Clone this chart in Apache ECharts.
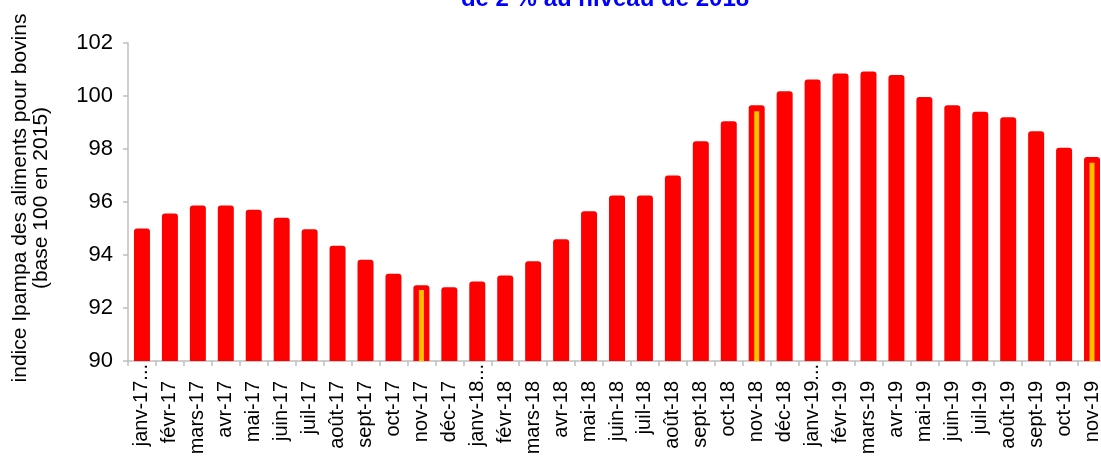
<!DOCTYPE html>
<html>
<head>
<meta charset="utf-8">
<script src="https://cdn.jsdelivr.net/npm/echarts@6/dist/echarts.min.js"></script>
<style>
  html, body { margin: 0; padding: 0; background: #fff; }
  #chart { width: 1101px; height: 457px; }
</style>
</head>
<body>
<div id="chart"></div>
<script>
// mois affichés en abscisse
const months = [
  'janv-17', 'févr-17', 'mars-17', 'avr-17', 'mai-17', 'juin-17', 'juil-17', 'août-17', 'sept-17', 'oct-17', 'nov-17', 'déc-17',
  'janv-18', 'févr-18', 'mars-18', 'avr-18', 'mai-18', 'juin-18', 'juil-18', 'août-18', 'sept-18', 'oct-18', 'nov-18', 'déc-18',
  'janv-19', 'févr-19', 'mars-19', 'avr-19', 'mai-19', 'juin-19', 'juil-19', 'août-19', 'sept-19', 'oct-19', 'nov-19'
]

// indice Ipampa aliments bovins (base 100 en 2015)
const ipampa = [
  95.0, 95.57, 95.87, 95.87, 95.71, 95.41, 94.97, 94.35, 93.82, 93.29, 92.86, 92.78,
  93.0, 93.23, 93.76, 94.59, 95.65, 96.25, 96.25, 97.0, 98.29, 99.05, 99.65, 100.18,
  100.62, 100.85, 100.92, 100.79, 99.96, 99.65, 99.41, 99.2, 98.67, 98.05, 97.7
]

// mois mis en évidence (trait jaune)
const highlightMonths = ['nov-17', 'nov-18', 'nov-19']
const highlightValues = [92.68, 99.42, 97.48]

const yTicks = { min: 90, max: 102, interval: 2 }

const font = 'Liberation Sans, Arial, sans-serif'
const grey = '#bfbfbf'

const highlightData = months.map((m) => {
  const i = highlightMonths.indexOf(m)
  return i >= 0 ? highlightValues[i] : '-'
})

const chart = echarts.init(document.getElementById('chart'))

chart.setOption({
  animation: false,
  backgroundColor: '#fff',
  title: {
    text: 'de 2 % au niveau de 2018',
    left: 605,
    top: -13,
    padding: 0,
    textAlign: 'center',
    textStyle: { color: '#0000ff', fontWeight: 'bold', fontSize: 24, fontFamily: font }
  },
  grid: { left: 128, right: -5, top: 43, bottom: 96, outerBoundsMode: 'none' },
  xAxis: [
    {
      type: 'category',
      data: months,
      axisLine: { lineStyle: { color: grey, width: 1.5 } },
      axisTick: { show: true, length: 5, lineStyle: { color: grey, width: 1.5 } },
      axisLabel: {
        rotate: 90,
        interval: 0,
        margin: 3,
        color: '#000',
        fontSize: 20,
        fontFamily: font,
        formatter: (v) => v.startsWith('janv') ? '{j|' + v + '...}' : '{n|' + v + '}',
        rich: {
          j: { fontSize: 20, fontFamily: font, color: '#000' },
          n: { fontSize: 20, fontFamily: font, color: '#000', padding: [0, 17, 0, 0] }
        }
      }
    },
    {
      type: 'category',
      data: months,
      show: false
    }
  ],
  yAxis: {
    type: 'value',
    min: yTicks.min,
    max: yTicks.max,
    interval: yTicks.interval,
    name: 'indice Ipampa des aliments pour bovins\n(base 100 en 2015)',
    nameLocation: 'middle',
    nameRotate: 90,
    nameGap: 76,
    nameTextStyle: { color: '#000', fontSize: 21, fontFamily: font, lineHeight: 21, padding: [0, 0, 0, 8] },
    axisLine: { show: true, lineStyle: { color: grey, width: 1.5 } },
    axisTick: { show: true, length: 5, lineStyle: { color: grey, width: 1.5 } },
    splitLine: { show: false },
    axisLabel: { color: '#000', fontSize: 22, fontFamily: font, margin: 15, padding: [8, 0, 0, 0] }
  },
  series: [
    {
      type: 'bar',
      data: ipampa,
      barWidth: 16,
      itemStyle: { color: '#ff0000', borderRadius: [3, 3, 0, 0] }
    },
    {
      type: 'bar',
      xAxisIndex: 1,
      data: highlightData,
      barWidth: 5,
      z: 3,
      itemStyle: { color: '#ffc000' }
    }
  ]
})
</script>
</body>
</html>
